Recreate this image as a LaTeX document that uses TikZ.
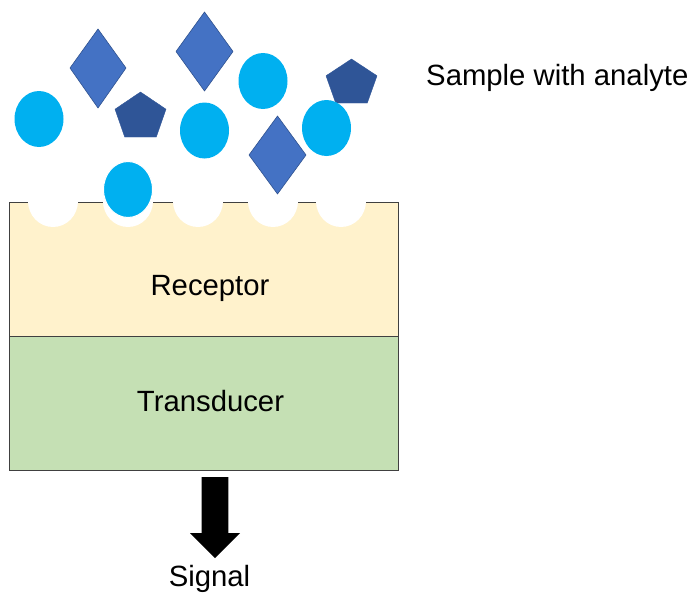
\documentclass[tikz,border=0pt]{standalone}
\usepackage{fontspec}
\setmainfont{Liberation Sans}
\definecolor{recfill}{HTML}{FFF2CC}
\definecolor{trfill}{HTML}{C5E0B4}
\definecolor{cyanball}{HTML}{00B0F0}
\definecolor{diam}{HTML}{4472C4}
\definecolor{diamedge}{HTML}{2F528F}
\definecolor{pent}{HTML}{2F5597}
\definecolor{edge}{HTML}{404040}
\begin{document}
\begin{tikzpicture}[x=1pt,y=-1pt,
  lbl/.style={font=\fontsize{29.3}{34}\selectfont, inner sep=0pt},
  ball/.style={fill=cyanball, draw=none},
  diamondshape/.style={fill=diam, draw=diamedge, line width=0.6pt, line join=round},
  pentshape/.style={fill=pent, draw=pent, line width=0.4pt, line join=round},
  layerbox/.style={draw=edge, line width=1pt},
  notch/.style={fill=white, draw=none}]
\useasboundingbox (0,0) rectangle (695,594);
% layers
\path[layerbox, fill=recfill] (9,202) rectangle (398,336);
\path[layerbox, fill=trfill] (9,336) rectangle (398,470);
% notches in receptor
\foreach \cx in {53,128,198,273,341}
  \fill[notch] (\cx,201) ellipse [x radius=25, y radius=26];
% diamonds
\path[diamondshape] (98,29) -- (126,68) -- (98,108) -- (70,68) -- cycle;
\path[diamondshape] (204.5,12) -- (233,51.5) -- (204.5,91) -- (176,51.5) -- cycle;
\path[diamondshape] (277.5,116) -- (306,155) -- (277.5,194) -- (249,155) -- cycle;
% pentagons
\path[pentshape] (140.5,92) -- (166,109.2) -- (156.3,137) -- (124.7,137) -- (115,109.2) -- cycle;
\path[pentshape] (351.5,59) -- (377,75.8) -- (367.3,103) -- (335.7,103) -- (326,75.8) -- cycle;
% balls
\path[ball] (39,119) ellipse [x radius=24.5, y radius=28];
\path[ball, draw=white, line width=1pt] (128,189.5) ellipse [x radius=24.5, y radius=28];
\path[ball] (204.5,130.5) ellipse [x radius=24.5, y radius=28];
\path[ball] (263,81) ellipse [x radius=24.5, y radius=28];
\path[ball] (326.5,128) ellipse [x radius=24.5, y radius=28];
% labels
\node[lbl, anchor=base west] (sample) at (426,85) {Sample with analyte};
\node[lbl, anchor=base] (receptor) at (210,295.7) {Receptor};
\node[lbl, anchor=base] (transducer) at (210.5,411.7) {Transducer};
\node[lbl, anchor=base] (signal) at (209.5,586.7) {Signal};
% signal arrow
\fill[black] (201.7,477) -- (228.3,477) -- (228.3,533) -- (240,533) -- (215,558) -- (190,533) -- (201.7,533) -- cycle;
\end{tikzpicture}
\end{document}
